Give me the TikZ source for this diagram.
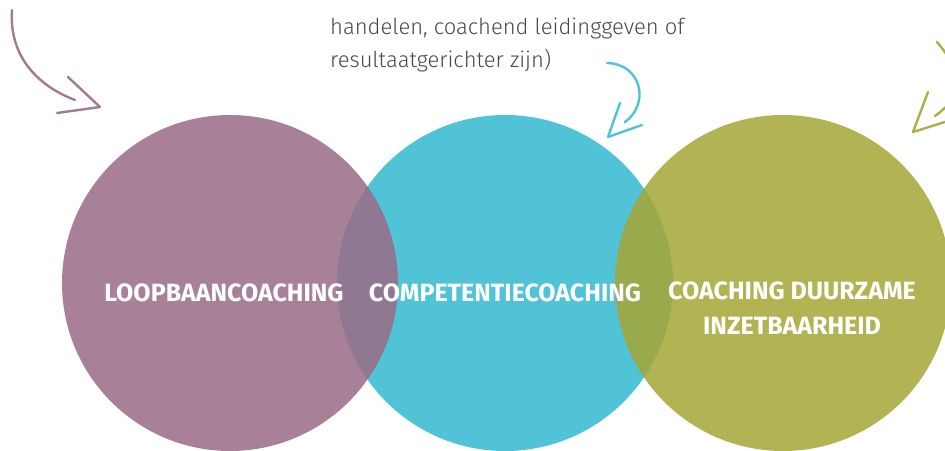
\documentclass[tikz,border=0pt]{standalone}
\usepackage{fontspec}
\setsansfont{Fira Sans}
\newfontfamily\labelfont{Fira Sans Bold}
\newfontfamily\notefont{Fira Sans Light}
\usepackage{xcolor}
\usepackage{tikz}
\usetikzlibrary{positioning}

\definecolor{loopbaan}{RGB}{153,107,135}
\definecolor{competentie}{RGB}{80,195,214}
\definecolor{duurzaam}{RGB}{165,166,52}
\definecolor{notegray}{RGB}{72,72,72}

\begin{document}
\begin{tikzpicture}[x=1pt,y=-1pt,
		circlabel/.style={text=white,font=\labelfont\fontsize{25}{35}\selectfont,align=center,inner sep=0pt},
		notetext/.style={text=notegray,font=\notefont\fontsize{22}{33}\selectfont,inner sep=0pt},
		handline/.style={line width=2.4pt,line cap=round,line join=round}]
		\clip (0,0) rectangle (945,450);
		% the three circles
		\fill[competentie] (505,283) circle (168);
		\fill[loopbaan,fill opacity=0.85] (230,283) circle (168);
		\fill[duurzaam,fill opacity=0.85] (783,283) circle (168);
		\node[circlabel,anchor=base] (loopbaanlabel) at (224,301) {LOOPBAANCOACHING};
		\node[circlabel,anchor=base] (competentielabel) at (505,301) {COMPETENTIECOACHING};
		\node[circlabel,anchor=base] (duurzaamlabel) at (792,334) {COACHING DUURZAME\\INZETBAARHEID};
		% note text
		\node[notetext,anchor=base west] (noteone) at (330,34) {handelen, coachend leidinggeven of};
		\node[notetext,anchor=base west] (notetwo) at (330,67) {resultaatgerichter zijn)};
		% hand drawn arrows
		\coordinate (tipone) at (100,107);
		\coordinate (tiptwo) at (608,137);
		\coordinate (tipthree) at (913,132);
		\draw[handline,loopbaan!90] (12,10) .. controls (9,52) and (33,84) .. (75,100);
		\draw[handline,loopbaan!90] (68,77) -- (tipone) -- (57,113);
		\draw[handline,competentie] (607,63) .. controls (642,64) and (650,104) .. (625,122);
		\draw[handline,competentie] (620,103) -- (tiptwo) -- (642,125);
		\draw[handline,duurzaam!90] (937,42) .. controls (968,78) and (958,100) .. (935,116);
		\draw[handline,duurzaam!90] (928,92) -- (tipthree) -- (945,122);
	\end{tikzpicture}
\end{document}
